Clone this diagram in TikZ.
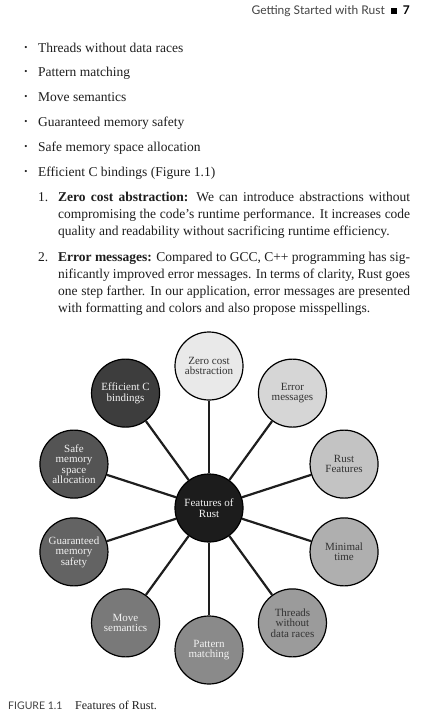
\documentclass[tikz,border=0pt]{standalone}
\usepackage{fontspec}
\setmainfont{Liberation Serif}
\newfontfamily\headfont{Lato}
\usetikzlibrary{positioning}

\definecolor{ink}{HTML}{1E1E1E}
\definecolor{hubfill}{HTML}{1C1C1C}
\definecolor{tone1}{HTML}{E9E9E9}
\definecolor{tone2}{HTML}{D6D6D6}
\definecolor{tone3}{HTML}{C3C3C3}
\definecolor{tone4}{HTML}{AFAFAF}
\definecolor{tone5}{HTML}{9B9B9B}
\definecolor{tone6}{HTML}{8A8A8A}
\definecolor{tone7}{HTML}{797979}
\definecolor{tone8}{HTML}{636363}
\definecolor{tone9}{HTML}{545454}
\definecolor{tone10}{HTML}{3D3D3D}
\definecolor{darktext}{HTML}{333333}
\definecolor{lighttext}{HTML}{F2F2F2}
\definecolor{headgray}{HTML}{444444}

\begin{document}
\begin{tikzpicture}[
  x=1pt, y=-1pt,
  node distance=0.3cm,
  bodytext/.style={inner sep=0pt, text=ink, font=\fontsize{13.5}{17.3}\selectfont},
  listpara/.style={bodytext, text width=352pt, align=justify},
  feature/.style={circle, draw=black, line width=1.2pt, minimum size=68pt,
    inner sep=0pt, align=center, font=\fontsize{11}{10.5}\selectfont},
  link/.style={line width=2.2pt, draw=ink}
]
\useasboundingbox (0,0) rectangle (437,720);
\fill[white] (0,0) rectangle (437,720);

% running head
\node[anchor=base east, inner sep=0pt, text=headgray,
  font=\headfont\fontsize{12}{14}\selectfont] (head) at (410,14)
  {Getting Started with Rust\enspace{\color{black}\rule{6pt}{6pt}\enspace\textbf{7}}};

% bullet list
\foreach \txt [count=\i] in {Threads without data races, Pattern matching,
    Move semantics, Guaranteed memory safety, Safe memory space allocation,
    {Efficient C bindings (Figure 1.1)}} {
  \node[bodytext, anchor=base west] (item\i) at (38,{52+24.8*(\i-1)}) {\txt};
  \node[bodytext, anchor=base, font=\fontsize{9}{10}\selectfont] (dot\i) at (26,{50+24.8*(\i-1)}) {•};
}

% numbered list
\node[bodytext, anchor=base west] (num1) at (38,201) {1.};
\node[listpara, anchor=base west] (para1) at (58,201)
  {\textbf{Zero cost abstraction:} We can introduce abstractions without\linebreak
   compromising the code’s runtime performance. It increases code\linebreak
   quality and readability without sacrificing runtime efficiency.};
\node[bodytext, anchor=base west] (num2) at (38,261) {2.};
\node[listpara, anchor=base west] (para2) at (58,261)
  {\textbf{Error messages:} Compared to GCC, C++ programming has sig-\linebreak
   nificantly improved error messages. In terms of clarity, Rust goes\linebreak
   one step farther. In our application, error messages are presented\linebreak
   with formatting and colors and also propose misspellings.};

% features wheel
\node[feature, fill=hubfill, text=lighttext] (hub) at (209,508) {Features of\\Rust};
\foreach \ang/\nm/\txtc/\lbl [count=\i] in {
    -90/zero/darktext/{Zero cost\\abstraction},
    -54/errmsg/darktext/{Error\\messages},
    -18/rustfeat/darktext/{Rust\\Features},
    18/mintime/darktext/{Minimal\\time},
    54/threads/darktext/{Threads\\without\\data races},
    90/pattern/lighttext/{Pattern\\matching},
    126/movesem/lighttext/{Move\\semantics},
    162/memsafe/lighttext/{Guaranteed\\memory\\safety},
    198/alloc/lighttext/{Safe\\memory\\space\\allocation},
    234/cbind/lighttext/{Efficient C\\bindings}} {
  \node[feature, fill=tone\i, text=\txtc] (\nm) at ([shift={(\ang:142)}]hub.center) {\lbl};
  \draw[link] (hub) -- (\nm);
}

% caption
\node[anchor=base west, inner sep=0pt, text=headgray,
  font=\headfont\fontsize{10.5}{12}\selectfont] (figtag) at (8,709) {FIGURE 1.1};
\node[bodytext, anchor=base west, font=\fontsize{12}{14}\selectfont] (figcap) at (75,709) {Features of Rust.};
\end{tikzpicture}
\end{document}
